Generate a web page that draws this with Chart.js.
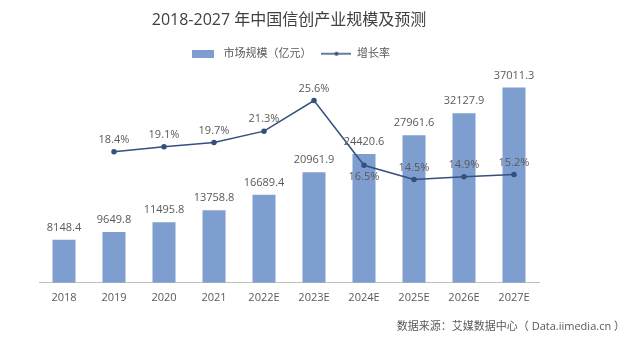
<!DOCTYPE html>
<html>
<head>
<meta charset="utf-8">
<script src="https://cdn.jsdelivr.net/npm/chart.js@4/dist/chart.umd.min.js"></script>
<style>
  body { margin: 0; background: #fff; }
  #wrap { width: 629px; height: 341px; }
</style>
</head>
<body>
<div id="wrap"><canvas id="grafico"></canvas></div>
<script>
const anos = ['2018', '2019', '2020', '2021', '2022E', '2023E', '2024E', '2025E', '2026E', '2027E'];
const mercado = [8148.4, 9649.8, 11495.8, 13758.8, 16689.4, 20961.9, 24420.6, 27961.6, 32127.9, 37011.3];
const crescimento = [null, 18.4, 19.1, 19.7, 21.3, 25.6, 16.5, 14.5, 14.9, 15.2];
const rotuloAbaixo = ['2024E'];

const FONTE = '"Open Sans", "Noto Sans CJK SC", sans-serif';
const corBarra = '#7f9ed0';
const corLinha = '#34507e';
const corTexto = '#595959';

// icones da legenda
function iconeBarra() {
    const c = document.createElement('canvas');
    c.width = 22; c.height = 8;
    const g = c.getContext('2d');
    g.fillStyle = corBarra;
    g.fillRect(0, 0, 22, 8);
    return c;
}
function iconeLinha() {
    const c = document.createElement('canvas');
    c.width = 30; c.height = 8;
    const g = c.getContext('2d');
    g.strokeStyle = corLinha;
    g.lineWidth = 1.5;
    g.beginPath(); g.moveTo(0, 4); g.lineTo(30, 4); g.stroke();
    g.fillStyle = corLinha;
    g.beginPath(); g.arc(15, 4, 2, 0, Math.PI * 2); g.fill();
    return c;
}

const rotulos = {
    id: 'rotulos',
    afterDatasetsDraw(chart) {
        const ctx = chart.ctx;
        ctx.save();
        ctx.font = '11px ' + FONTE;
        ctx.fillStyle = corTexto;
        ctx.textAlign = 'center';
        ctx.textBaseline = 'middle';
        chart.getDatasetMeta(0).data.forEach((bar, i) => {
            ctx.fillText(mercado[i].toFixed(1), bar.x, bar.y - 12);
        });
        chart.getDatasetMeta(1).data.forEach((pt, i) => {
            if (crescimento[i] === null) return;
            const dy = rotuloAbaixo.includes(anos[i]) ? 12 : -12;
            ctx.fillText(crescimento[i].toFixed(1) + '%', pt.x, pt.y + dy);
        });
        // fonte dos dados
        ctx.textAlign = 'right';
        ctx.fillText('数据来源：艾媒数据中心（ Data.iimedia.cn ）', chart.width - 4, chart.height - 14);
        ctx.restore();
    }
};

function criarGrafico() {
    const ctx = document.getElementById('grafico').getContext('2d');
    new Chart(ctx, {
        data: {
            labels: anos,
            datasets: [
                {
                    type: 'bar',
                    label: '市场规模（亿元）',
                    data: mercado,
                    backgroundColor: corBarra,
                    yAxisID: 'y',
                    categoryPercentage: 1,
                    barPercentage: 0.46,
                    order: 2
                },
                {
                    type: 'line',
                    label: '增长率',
                    data: crescimento,
                    borderColor: corLinha,
                    backgroundColor: corLinha,
                    borderWidth: 1.5,
                    pointRadius: 2,
                    yAxisID: 'y1',
                    order: 1
                }
            ]
        },
        options: {
            responsive: true,
            maintainAspectRatio: false,
            animation: false,
            layout: { padding: { left: 39, right: 90, top: 11, bottom: 37 } },
            plugins: {
                title: {
                    display: true,
                    text: '2018-2027 年中国信创产业规模及预测',
                    color: '#404040',
                    font: { family: FONTE, size: 16, weight: 'normal' },
                    padding: { top: 0, bottom: 8 }
                },
                legend: {
                    labels: {
                        color: corTexto,
                        font: { family: FONTE, size: 11 },
                        usePointStyle: true,
                        pointStyleWidth: 30,
                        padding: 10,
                        generateLabels: chart => [
                            { text: '市场规模（亿元）', pointStyle: iconeBarra(), datasetIndex: 0, fontColor: corTexto },
                            { text: '增长率', pointStyle: iconeLinha(), datasetIndex: 1, fontColor: corTexto }
                        ]
                    }
                },
                tooltip: { enabled: false }
            },
            scales: {
                x: {
                    grid: { display: false },
                    border: { display: true, color: '#bfbfbf', width: 1 },
                    ticks: { color: corTexto, font: { family: FONTE, size: 11 }, padding: 0 }
                },
                y: { display: false, min: 0, max: 40500 },
                y1: { display: false, min: 0, max: 30, position: 'right' }
            }
        },
        plugins: [rotulos]
    });
}

document.addEventListener('DOMContentLoaded', criarGrafico);
</script>
</body>
</html>
